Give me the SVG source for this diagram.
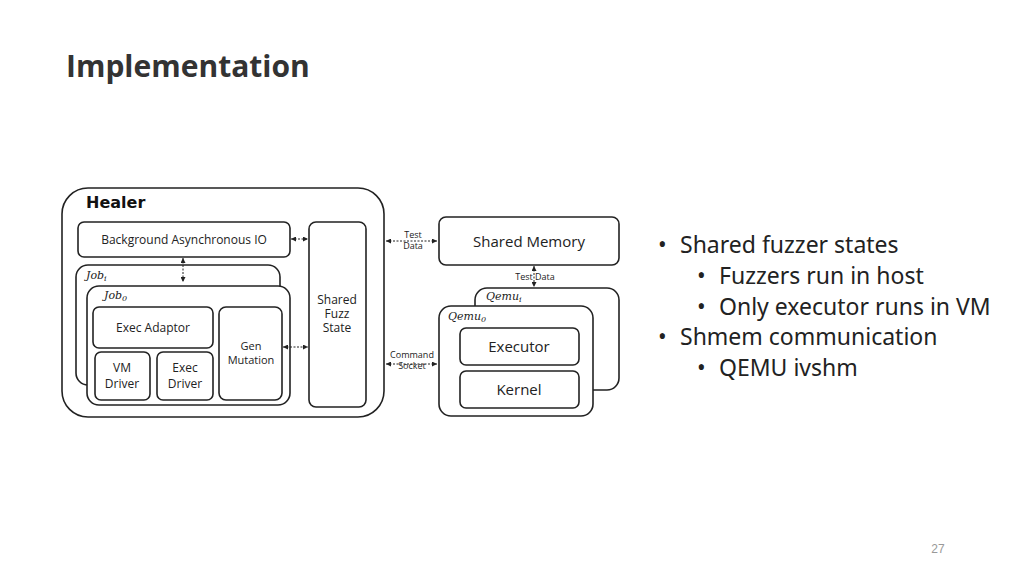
<svg xmlns="http://www.w3.org/2000/svg" width="1024" height="576" viewBox="0 0 1024 576">
<defs>
<marker id="a" viewBox="0 0 6 6" refX="6" refY="3" markerWidth="5" markerHeight="5" orient="auto-start-reverse"><path d="M0,0L6,3L0,6z" fill="#222"/></marker>
<style>
.b{fill:#fff;stroke:#222;stroke-width:1.6}
.t{font-family:"Open Sans","Liberation Sans",sans-serif;fill:#222;text-anchor:middle}
.i{font-family:"DejaVu Serif","Liberation Serif",serif;font-style:italic;fill:#222;font-size:11px}
.c{stroke:#222;stroke-width:1;stroke-dasharray:2 1.5;fill:none;marker-start:url(#a);marker-end:url(#a)}
.s{font-family:"Noto Sans","Liberation Sans",sans-serif;fill:#222;font-size:23px}
</style>
</defs>
<rect width="1024" height="576" fill="#fff"/>
<text x="66" y="77" font-family="'Open Sans','Liberation Sans',sans-serif" font-weight="bold" font-size="30" fill="#333">Implementation</text>
<g id="healer"><rect class="b" x="62" y="188" width="322" height="229" rx="26"/><text x="86" y="208" font-family="'DejaVu Sans','Liberation Sans',sans-serif" font-weight="bold" font-size="16" fill="#111">Healer</text></g>
<g id="bgio"><rect class="b" x="78" y="222" width="212" height="35" rx="6"/><text class="t" x="184" y="244" font-size="12">Background Asynchronous IO</text></g>
<g id="sfs"><rect class="b" x="309" y="222" width="57" height="185" rx="7"/><text class="t" x="337" y="304" font-size="12">Shared</text><text class="t" x="337" y="318" font-size="12">Fuzz</text><text class="t" x="337" y="332" font-size="12">State</text></g>
<g id="jobi"><rect class="b" x="76" y="265" width="204" height="120" rx="12"/><text class="i" x="86" y="279">Job<tspan font-size="8" dy="2">i</tspan></text></g>
<g id="job0"><rect class="b" x="87" y="286" width="203" height="119" rx="12"/><text class="i" x="104" y="299">Job<tspan font-size="8" dy="2">0</tspan></text></g>
<g id="execadaptor"><rect class="b" x="93" y="307" width="120" height="41" rx="6"/><text class="t" x="153" y="332" font-size="12">Exec Adaptor</text></g>
<g id="vmdriver"><rect class="b" x="95" y="352" width="55" height="48" rx="6"/><text class="t" x="122" y="372" font-size="12">VM</text><text class="t" x="122" y="388" font-size="12">Driver</text></g>
<g id="execdriver"><rect class="b" x="157" y="352" width="56" height="48" rx="6"/><text class="t" x="185" y="372" font-size="12">Exec</text><text class="t" x="185" y="388" font-size="12">Driver</text></g>
<g id="gen"><rect class="b" x="219" y="307" width="63" height="93" rx="7"/><text class="t" x="251" y="350" font-size="11">Gen</text><text class="t" x="251" y="364" font-size="11">Mutation</text></g>
<g id="shmem"><rect class="b" x="439" y="217" width="180" height="48" rx="7"/><text class="t" x="529" y="247" font-size="15">Shared Memory</text></g>
<g id="qemui"><rect class="b" x="475" y="288" width="144" height="102" rx="12"/><text class="i" x="486" y="300">Qemu<tspan font-size="8" dy="2">i</tspan></text></g>
<g id="qemu0"><rect class="b" x="439" y="306" width="154" height="110" rx="12"/><text class="i" x="448" y="320">Qemu<tspan font-size="8" dy="2">0</tspan></text></g>
<g id="executor"><rect class="b" x="460" y="328" width="119" height="37" rx="6"/><text class="t" x="519" y="352" font-size="15">Executor</text></g>
<g id="kernel"><rect class="b" x="460" y="371" width="119" height="37" rx="6"/><text class="t" x="519" y="395" font-size="15">Kernel</text></g>
<g id="connectors">
<line class="c" x1="291" y1="239" x2="308" y2="239"/>
<line class="c" x1="183" y1="258" x2="183" y2="282"/>
<line class="c" x1="283" y1="347" x2="308" y2="347"/>
<line class="c" x1="386" y1="241" x2="437" y2="241"/>
<line class="c" x1="386" y1="364" x2="437" y2="364"/>
<line class="c" x1="534" y1="266" x2="534" y2="287"/>
<text class="t" x="413" y="238" font-size="9">Test</text><text class="t" x="413" y="249" font-size="9">Data</text>
<text class="t" x="412" y="358" font-size="9">Command</text><text class="t" x="412" y="369" font-size="9">Socket</text>
<text class="t" x="535" y="280" font-size="9">Test Data</text>
</g>
<text class="s" x="658" y="253">•</text><text class="s" x="680" y="253">Shared fuzzer states</text>
<text class="s" x="697" y="284">•</text><text class="s" x="719" y="284">Fuzzers run in host</text>
<text class="s" x="697" y="315">•</text><text class="s" x="719" y="315">Only executor runs in VM</text>
<text class="s" x="658" y="345">•</text><text class="s" x="680" y="345">Shmem communication</text>
<text class="s" x="697" y="376">•</text><text class="s" x="719" y="376">QEMU ivshm</text>
<text x="938" y="553" font-family="'Liberation Sans',sans-serif" font-size="12" fill="#999" text-anchor="middle">27</text>
</svg>
